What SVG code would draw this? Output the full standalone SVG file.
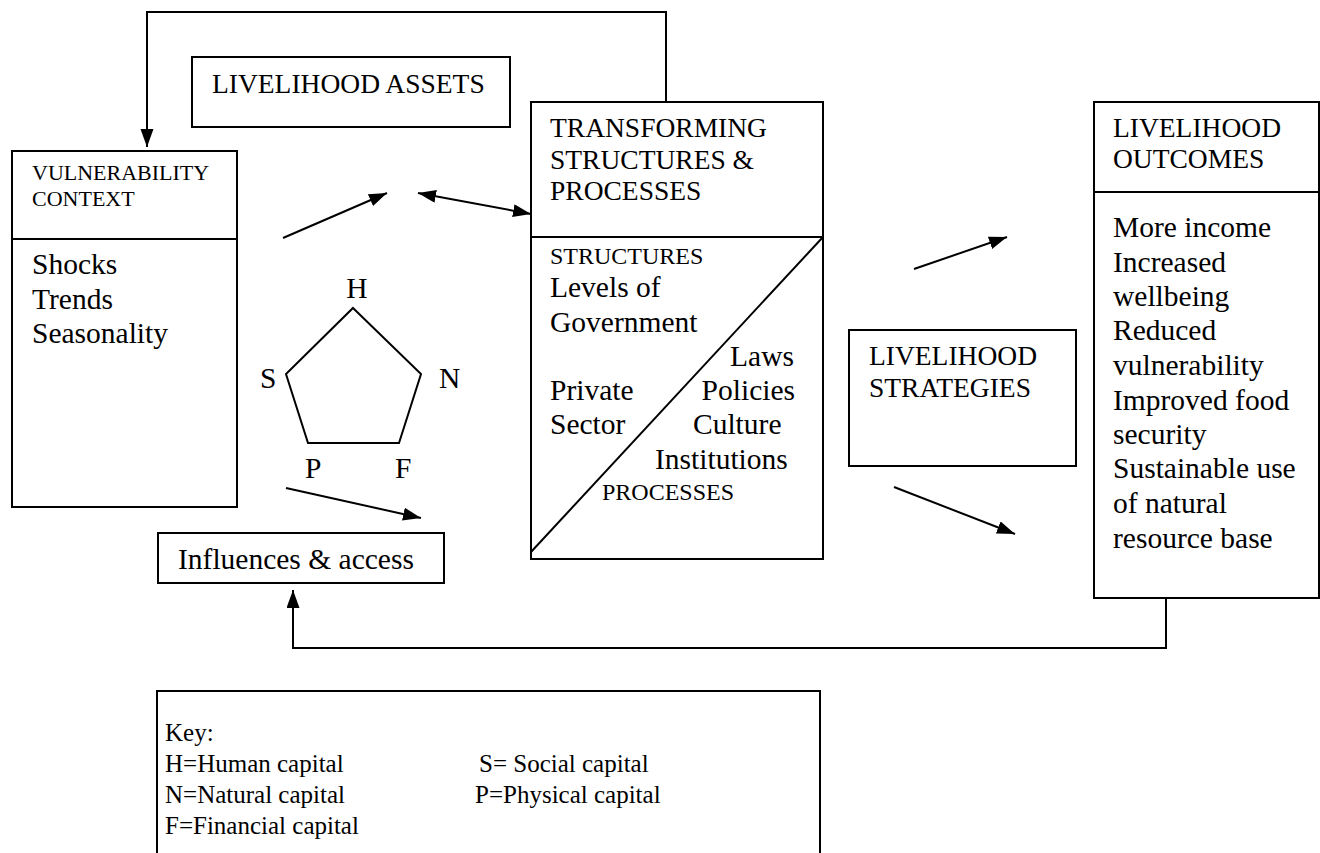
<svg xmlns="http://www.w3.org/2000/svg" width="1320" height="853" viewBox="0 0 1320 853">
<style>
  .box{fill:none;stroke:#000;stroke-width:2}
  .ln{fill:none;stroke:#000;stroke-width:2}
  text{font-family:"Liberation Serif","Times New Roman",serif;fill:#000}
  .h{font-size:27.5px}
  .b{font-size:29.5px}
  .s{font-size:24px}
  .v{font-size:22px}
  .k{font-size:25px}
</style>
<defs>
  <marker id="ah" markerUnits="userSpaceOnUse" markerWidth="20" markerHeight="14" refX="18" refY="6.5" orient="auto-start-reverse">
    <path d="M0,0 L18,6.5 L0,13 z" fill="#000"/>
  </marker>
</defs>
<rect width="1320" height="853" fill="#fff"/>

<g id="connectors">
  <polyline class="ln" points="666,102 666,12 147,12 147,147" marker-end="url(#ah)"/>
  <polyline class="ln" points="1166,598 1166,648 293,648 293,590" marker-end="url(#ah)"/>
  <line class="ln" x1="283" y1="238" x2="387" y2="193" marker-end="url(#ah)"/>
  <line class="ln" x1="418" y1="193" x2="531" y2="214" marker-start="url(#ah)" marker-end="url(#ah)"/>
  <line class="ln" x1="286" y1="488" x2="421" y2="518" marker-end="url(#ah)"/>
  <line class="ln" x1="914" y1="269" x2="1007" y2="237" marker-end="url(#ah)"/>
  <line class="ln" x1="894" y1="487" x2="1015" y2="534" marker-end="url(#ah)"/>
</g>

<g id="livelihood-assets">
  <rect class="box" x="192" y="57" width="318" height="70"/>
  <text class="h" x="212" y="93">LIVELIHOOD ASSETS</text>
</g>

<g id="vulnerability-context">
  <rect class="box" x="12" y="151" width="225" height="356"/>
  <line class="ln" x1="12" y1="239" x2="237" y2="239"/>
  <text class="v" x="32" y="180">VULNERABILITY</text>
  <text class="v" x="32" y="206">CONTEXT</text>
  <text class="b" x="32" y="274">Shocks</text>
  <text class="b" x="32" y="309">Trends</text>
  <text class="b" x="32" y="343">Seasonality</text>
</g>

<g id="asset-pentagon">
  <polygon class="ln" points="353,308 421,374 399,443 308,443 286,374"/>
  <text class="b" x="357" y="298" text-anchor="middle">H</text>
  <text class="b" x="260" y="388">S</text>
  <text class="b" x="439" y="388">N</text>
  <text class="b" x="305" y="478">P</text>
  <text class="b" x="395" y="478">F</text>
</g>

<g id="influences-access">
  <rect class="box" x="158" y="533" width="286" height="50"/>
  <text class="b" x="178" y="569">Influences &amp; access</text>
</g>

<g id="transforming-structures">
  <rect class="box" x="531" y="102" width="292" height="457"/>
  <line class="ln" x1="531" y1="237" x2="823" y2="237"/>
  <line class="ln" x1="823" y1="237" x2="531" y2="552"/>
  <text class="h" x="550" y="137">TRANSFORMING</text>
  <text class="h" x="550" y="169">STRUCTURES &amp;</text>
  <text class="h" x="550" y="200">PROCESSES</text>
  <text class="s" x="550" y="264">STRUCTURES</text>
  <text class="b" x="550" y="297">Levels of</text>
  <text class="b" x="550" y="332">Government</text>
  <text class="b" x="794" y="366" text-anchor="end">Laws</text>
  <text class="b" x="550" y="400">Private</text>
  <text class="b" x="795" y="400" text-anchor="end">Policies</text>
  <text class="b" x="550" y="434">Sector</text>
  <text class="b" x="693" y="434">Culture</text>
  <text class="b" x="655" y="469">Institutions</text>
  <text class="s" x="602" y="500">PROCESSES</text>
</g>

<g id="livelihood-strategies">
  <rect class="box" x="849" y="330" width="227" height="136"/>
  <text class="h" x="869" y="365">LIVELIHOOD</text>
  <text class="h" x="869" y="397">STRATEGIES</text>
</g>

<g id="livelihood-outcomes">
  <rect class="box" x="1094" y="102" width="225" height="496"/>
  <line class="ln" x1="1094" y1="192" x2="1319" y2="192"/>
  <text class="h" x="1113" y="137">LIVELIHOOD</text>
  <text class="h" x="1113" y="168">OUTCOMES</text>
  <text class="b" x="1113" y="237">More income</text>
  <text class="b" x="1113" y="272">Increased</text>
  <text class="b" x="1113" y="306">wellbeing</text>
  <text class="b" x="1113" y="340">Reduced</text>
  <text class="b" x="1113" y="375">vulnerability</text>
  <text class="b" x="1113" y="410">Improved food</text>
  <text class="b" x="1113" y="444">security</text>
  <text class="b" x="1113" y="478">Sustainable use</text>
  <text class="b" x="1113" y="513">of natural</text>
  <text class="b" x="1113" y="548">resource base</text>
</g>

<g id="key">
  <path class="box" d="M157,860 L157,691 L820,691 L820,860"/>
  <text class="k" x="165" y="741">Key:</text>
  <text class="k" x="165" y="772">H=Human capital</text>
  <text class="k" x="479" y="772">S= Social capital</text>
  <text class="k" x="475" y="803">P=Physical capital</text>
  <text class="k" x="165" y="803">N=Natural capital</text>
  <text class="k" x="165" y="834">F=Financial capital</text>
</g>
</svg>
